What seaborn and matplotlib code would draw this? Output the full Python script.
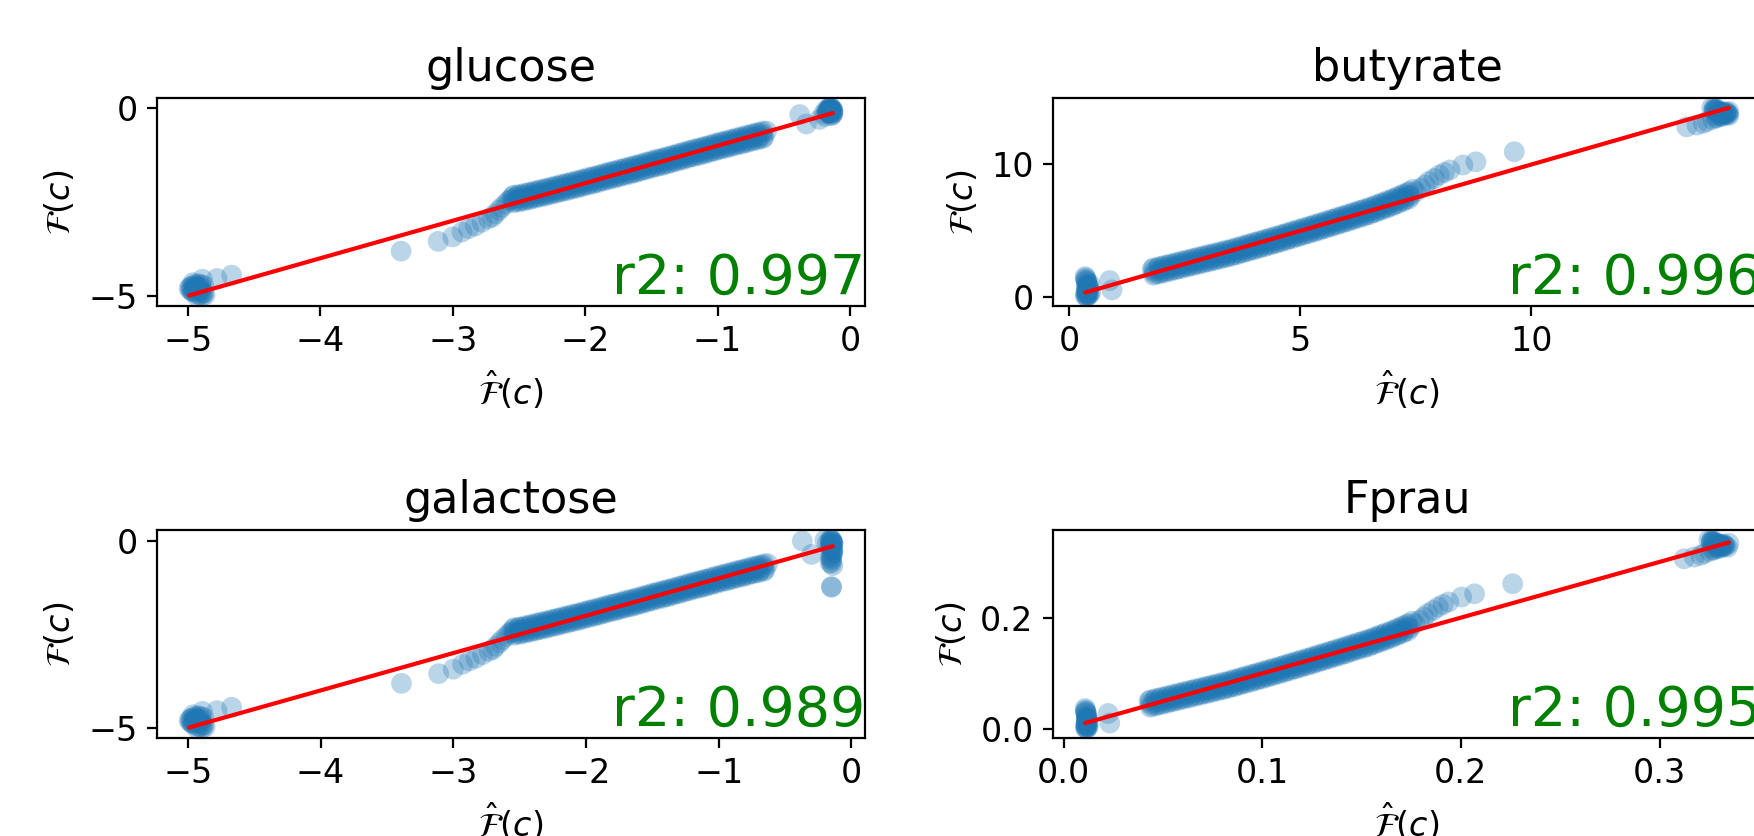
"""
Predicted vs. true F(c) for four targets, 2x2 panels with identity line and r2.
"""

import numpy as np
import matplotlib
matplotlib.use('Agg')
import matplotlib.pyplot as plt
from matplotlib.ticker import MultipleLocator
import seaborn as sns

# ── Data ────────────────────────────────────────────────────────────────────
TITLES = ['glucose', 'butyrate', 'galactose', 'Fprau']
R2     = [0.997, 0.996, 0.989, 0.995]

# glucose / galactose share the same low cluster, tail and band
low_x  = [-4.99, -4.98, -4.97, -4.96, -4.95, -4.94, -4.93, -4.92, -4.90, -4.89, -4.88, -4.87, -4.96, -4.91,
          -4.95, -4.92, -4.89, -4.97, -4.90, -4.93, -4.98, -4.95, -4.92, -4.90, -4.88, -4.94, -4.96, -4.91]
low_y  = [-4.80, -4.85, -4.75, -4.90, -4.70, -4.82, -4.95, -4.68, -4.78, -5.00, -4.72, -4.98, -4.65, -4.88,
          -4.78, -4.74, -4.92, -4.86, -4.70, -5.02, -4.76, -4.83, -4.79, -4.86, -4.93, -4.72, -4.88, -4.98]
tail_x = [-4.89, -4.78, -4.67, -3.39, -3.11, -3.00, -2.93, -2.88, -2.83, -2.78, -2.73, -2.70, -2.68,
          -2.65, -2.63, -2.60, -2.58, -2.56]
tail_y = [-4.56, -4.54, -4.45, -3.81, -3.55, -3.43, -3.30, -3.21, -3.14, -3.04, -2.95, -2.90, -2.82,
          -2.72, -2.64, -2.55, -2.47, -2.43]
band_up_x = [-2.55, -2.51, -2.47, -2.43, -2.39, -2.35, -2.31, -2.27, -2.23, -2.19, -2.15, -2.11, -2.07,
             -2.03, -1.99, -1.95, -1.91, -1.87, -1.83, -1.79, -1.75, -1.71, -1.67, -1.63, -1.59, -1.55,
             -1.51, -1.47, -1.43, -1.39, -1.35, -1.31, -1.27, -1.23, -1.19, -1.15, -1.11, -1.07, -1.03,
             -0.99, -0.95, -0.91, -0.87, -0.83, -0.79, -0.75, -0.71, -0.67, -0.63]
band_up_y = [-2.36, -2.33, -2.31, -2.27, -2.24, -2.21, -2.17, -2.14, -2.10, -2.07, -2.03, -2.00, -1.96,
             -1.93, -1.89, -1.85, -1.82, -1.78, -1.74, -1.70, -1.67, -1.63, -1.59, -1.55, -1.52, -1.48,
             -1.44, -1.40, -1.36, -1.32, -1.29, -1.25, -1.21, -1.17, -1.13, -1.09, -1.05, -1.02, -0.98,
             -0.94, -0.90, -0.87, -0.83, -0.79, -0.76, -0.72, -0.68, -0.65, -0.61]
band_mid_x = [-2.54, -2.50, -2.46, -2.42, -2.38, -2.34, -2.30, -2.26, -2.22, -2.18, -2.14, -2.10, -2.06,
              -2.02, -1.98, -1.94, -1.90, -1.86, -1.82, -1.78, -1.74, -1.70, -1.66, -1.62, -1.58, -1.54,
              -1.50, -1.46, -1.42, -1.38, -1.34, -1.30, -1.26, -1.22, -1.18, -1.14, -1.10, -1.06, -1.02,
              -0.98, -0.94, -0.90, -0.86, -0.82, -0.78, -0.74, -0.70, -0.66]
band_mid_y = [-2.42, -2.40, -2.37, -2.34, -2.30, -2.27, -2.24, -2.20, -2.17, -2.13, -2.10, -2.06, -2.03,
              -1.99, -1.95, -1.92, -1.88, -1.84, -1.80, -1.77, -1.73, -1.69, -1.66, -1.62, -1.58, -1.54,
              -1.50, -1.46, -1.43, -1.39, -1.35, -1.31, -1.27, -1.23, -1.19, -1.16, -1.12, -1.08, -1.04,
              -1.00, -0.97, -0.93, -0.89, -0.86, -0.82, -0.78, -0.75, -0.71]
band_top_y = [-2.32, -2.30, -2.27, -2.24, -2.20, -2.17, -2.14, -2.10, -2.07, -2.03, -2.00, -1.96, -1.93,
              -1.89, -1.85, -1.82, -1.78, -1.74, -1.70, -1.67, -1.63, -1.59, -1.56, -1.52, -1.48, -1.44,
              -1.40, -1.36, -1.33, -1.29, -1.25, -1.21, -1.17, -1.13, -1.09, -1.06, -1.02, -0.98, -0.94,
              -0.90, -0.87, -0.83, -0.79, -0.76, -0.72, -0.68, -0.65, -0.61]
band_bot_y = [-2.52, -2.50, -2.47, -2.44, -2.40, -2.37, -2.34, -2.30, -2.27, -2.23, -2.20, -2.16, -2.13,
              -2.09, -2.05, -2.02, -1.98, -1.94, -1.90, -1.87, -1.83, -1.79, -1.76, -1.72, -1.68, -1.64,
              -1.60, -1.56, -1.53, -1.49, -1.45, -1.41, -1.37, -1.33, -1.29, -1.26, -1.22, -1.18, -1.14,
              -1.10, -1.07, -1.03, -0.99, -0.96, -0.92, -0.88, -0.85, -0.81]
band_lo_x = [-2.53, -2.49, -2.45, -2.41, -2.37, -2.33, -2.29, -2.25, -2.21, -2.17, -2.13, -2.09, -2.05,
             -2.01, -1.97, -1.93, -1.89, -1.85, -1.81, -1.77, -1.73, -1.69, -1.65, -1.61, -1.57, -1.53,
             -1.49, -1.45, -1.41, -1.37, -1.33, -1.29, -1.25, -1.21, -1.17, -1.13, -1.09, -1.05, -1.01,
             -0.97, -0.93, -0.89, -0.85, -0.81, -0.77, -0.73, -0.69, -0.65]
band_lo_y = [-2.48, -2.46, -2.43, -2.40, -2.37, -2.33, -2.30, -2.26, -2.23, -2.19, -2.16, -2.12, -2.09,
             -2.05, -2.01, -1.98, -1.94, -1.90, -1.86, -1.83, -1.79, -1.75, -1.72, -1.68, -1.64, -1.60,
             -1.56, -1.52, -1.49, -1.45, -1.41, -1.37, -1.33, -1.29, -1.25, -1.22, -1.18, -1.14, -1.10,
             -1.06, -1.03, -0.99, -0.95, -0.92, -0.88, -0.84, -0.81, -0.77]
glu_top_x = [-0.38, -0.33, -0.23, -0.20, -0.19, -0.18, -0.17, -0.16, -0.15, -0.15, -0.14, -0.14, -0.13, -0.13,
             -0.14, -0.15, -0.16, -0.13, -0.17, -0.15, -0.13, -0.14, -0.15, -0.16, -0.14, -0.13, -0.15,
             -0.17, -0.14, -0.16]
glu_top_y = [-0.17, -0.42, -0.30, -0.15, -0.22, -0.05, -0.12, 0.00, -0.08, 0.02, -0.20, -0.03, -0.10, -0.06,
             -0.05, -0.12, -0.02, -0.15, -0.08, 0.01, -0.04, -0.09, -0.14, -0.06, 0.00, -0.12, -0.03,
             -0.10, -0.18, -0.13]
gal_top_x = [-0.37, -0.30, -0.20, -0.18, -0.16, -0.15, -0.14, -0.15, -0.16, -0.14, -0.15, -0.14, -0.15,
             -0.16, -0.15, -0.15, -0.14, -0.15, -0.15, -0.15, -0.14, -0.16, -0.15, -0.14, -0.15,
             -0.15, -0.14, -0.16, -0.15, -0.14, -0.15, -0.16, -0.14]
gal_top_y = [0.00, -0.36, 0.02, -0.05, 0.04, 0.00, -0.05, -0.10, -0.15, -0.20, -0.26, -0.32, -0.38,
             -0.45, -0.52, -0.60, -0.66, -1.22, -1.24, 0.02, -0.08, -0.02, -0.12, -0.25, -0.40,
             0.03, -0.04, -0.10, -0.18, -0.30, -0.48, -0.58, -0.06]

# butyrate
but_low_x = [0.35, 0.36, 0.38, 0.40, 0.37, 0.39, 0.42, 0.36, 0.38, 0.41, 0.44, 0.35, 0.47, 0.45,
             0.38, 0.40, 0.37, 0.42, 0.39, 0.41, 0.37, 0.39, 0.41, 0.38, 0.40, 0.42, 0.36, 0.39]
but_low_y = [0.10, 0.35, 0.60, 0.25, 0.85, 1.10, 0.45, 1.35, 0.05, 0.75, 0.20, 1.55, 0.40, 1.00,
             0.30, 0.70, 1.20, 0.15, 0.95, 0.50, 0.20, 0.55, 0.90, 1.25, 0.35, 0.80, 1.45, 0.10]
but_tail_x = [0.88, 0.93, 7.50, 7.61, 7.70, 7.78, 7.90, 8.01, 8.12, 8.24, 8.52, 8.80, 9.63]
but_tail_y = [1.25, 0.55, 7.95, 8.21, 8.45, 8.71, 8.95, 9.21, 9.40, 9.59, 9.96, 10.20, 10.96]
but_up_x = [1.80, 1.92, 2.04, 2.16, 2.28, 2.40, 2.52, 2.64, 2.76, 2.88, 3.00, 3.12, 3.24, 3.36, 3.48,
            3.60, 3.72, 3.84, 3.96, 4.08, 4.20, 4.32, 4.44, 4.56, 4.68, 4.80, 4.92, 5.04, 5.16, 5.28,
            5.40, 5.52, 5.64, 5.76, 5.88, 6.00, 6.12, 6.24, 6.36, 6.48, 6.60, 6.72, 6.84, 6.96, 7.08,
            7.20, 7.32, 7.44]
but_up_y = [2.10, 2.20, 2.31, 2.41, 2.51, 2.61, 2.72, 2.82, 2.92, 3.02, 3.13, 3.23, 3.33, 3.43, 3.53,
            3.65, 3.77, 3.89, 4.01, 4.13, 4.25, 4.37, 4.49, 4.61, 4.74, 4.87, 4.99, 5.12, 5.24, 5.37,
            5.50, 5.62, 5.75, 5.89, 6.02, 6.15, 6.28, 6.41, 6.55, 6.68, 6.83, 6.99, 7.14, 7.30, 7.47,
            7.65, 7.85, 8.13]
but_mid_x = [1.83, 1.95, 2.07, 2.19, 2.31, 2.43, 2.55, 2.67, 2.79, 2.91, 3.03, 3.15, 3.27, 3.39, 3.51,
             3.63, 3.75, 3.87, 3.99, 4.11, 4.23, 4.35, 4.47, 4.59, 4.71, 4.83, 4.95, 5.07, 5.19, 5.31,
             5.43, 5.55, 5.67, 5.79, 5.91, 6.03, 6.15, 6.27, 6.39, 6.51, 6.63, 6.75, 6.87, 6.99, 7.11,
             7.23, 7.35]
but_mid_y = [1.93, 2.03, 2.13, 2.23, 2.34, 2.44, 2.54, 2.64, 2.75, 2.85, 2.95, 3.05, 3.15, 3.26, 3.36,
             3.48, 3.60, 3.72, 3.84, 3.96, 4.08, 4.20, 4.32, 4.44, 4.57, 4.70, 4.82, 4.95, 5.07, 5.20,
             5.33, 5.46, 5.59, 5.72, 5.85, 5.98, 6.12, 6.25, 6.38, 6.51, 6.67, 6.83, 6.98, 7.14, 7.32,
             7.50, 7.68]
but_top_band_y = [2.21, 2.31, 2.41, 2.51, 2.62, 2.72, 2.82, 2.92, 3.03, 3.13, 3.23, 3.33, 3.43, 3.54, 3.64,
                  3.76, 3.88, 4.00, 4.12, 4.24, 4.36, 4.48, 4.60, 4.72, 4.85, 4.98, 5.10, 5.23, 5.35, 5.48,
                  5.61, 5.74, 5.87, 6.00, 6.13, 6.26, 6.40, 6.53, 6.66, 6.79, 6.95, 7.11, 7.26, 7.42, 7.60,
                  7.78, 7.96]
but_bot_band_y = [1.65, 1.75, 1.85, 1.95, 2.06, 2.16, 2.26, 2.36, 2.47, 2.57, 2.67, 2.77, 2.87, 2.98, 3.08,
                  3.20, 3.32, 3.44, 3.56, 3.68, 3.80, 3.92, 4.04, 4.16, 4.29, 4.42, 4.54, 4.67, 4.79, 4.92,
                  5.05, 5.18, 5.31, 5.44, 5.57, 5.70, 5.84, 5.97, 6.10, 6.23, 6.39, 6.55, 6.70, 6.86, 7.04,
                  7.22, 7.40]
but_lo_x = [1.86, 1.98, 2.10, 2.22, 2.34, 2.46, 2.58, 2.70, 2.82, 2.94, 3.06, 3.18, 3.30, 3.42, 3.54,
            3.66, 3.78, 3.90, 4.02, 4.14, 4.26, 4.38, 4.50, 4.62, 4.74, 4.86, 4.98, 5.10, 5.22, 5.34,
            5.46, 5.58, 5.70, 5.82, 5.94, 6.06, 6.18, 6.30, 6.42, 6.54, 6.66, 6.78, 6.90, 7.02, 7.14,
            7.26, 7.38]
but_lo_y = [1.75, 1.85, 1.96, 2.06, 2.16, 2.27, 2.37, 2.47, 2.57, 2.67, 2.78, 2.88, 2.98, 3.08, 3.19,
            3.31, 3.43, 3.55, 3.67, 3.79, 3.91, 4.03, 4.15, 4.28, 4.40, 4.53, 4.65, 4.78, 4.91, 5.03,
            5.16, 5.29, 5.42, 5.55, 5.68, 5.82, 5.95, 6.08, 6.21, 6.35, 6.51, 6.66, 6.82, 6.98, 7.15,
            7.34, 7.59]
but_top_x = [13.36, 13.58, 13.72, 13.80, 13.90, 13.95, 14.00, 14.05, 14.10, 14.15, 14.20, 14.25, 14.27,
             13.92, 14.00, 14.12, 14.22, 14.27, 13.95, 14.05, 14.15, 14.20, 14.10, 14.00,
             13.95, 14.00, 14.05, 14.10, 14.15, 14.20, 14.25, 14.02, 14.12, 13.98]
but_top_y = [12.84, 12.97, 13.10, 13.25, 14.30, 14.10, 14.20, 13.90, 13.80, 13.95, 13.75, 13.85, 13.70,
             13.40, 13.50, 13.60, 13.95, 14.00, 14.15, 14.05, 13.90, 13.80, 13.65, 13.55,
             14.22, 14.12, 14.00, 13.92, 13.85, 13.90, 13.78, 13.70, 13.72, 14.05]

# Fprau
fp_low_x = [0.0110, 0.0113, 0.0116, 0.0119, 0.0114, 0.0118, 0.0123, 0.0111, 0.0117, 0.0121, 0.0125, 0.0109,
            0.0113, 0.0117, 0.0112, 0.0120, 0.0115, 0.0118, 0.0112, 0.0114, 0.0117, 0.0113, 0.0116,
            0.0119, 0.0111, 0.0114]
fp_low_y = [0.002, 0.008, 0.014, 0.006, 0.020, 0.026, 0.011, 0.032, 0.001, 0.018, 0.005, 0.037,
            0.007, 0.017, 0.029, 0.004, 0.023, 0.012, 0.005, 0.013, 0.021, 0.030, 0.008,
            0.019, 0.034, 0.002]
fp_tail_x = [0.0225, 0.0233, 0.1768, 0.1793, 0.1814, 0.1833, 0.1860, 0.1886, 0.1911, 0.1939, 0.2004,
             0.2069, 0.2261]
fp_tail_y = [0.028, 0.011, 0.1892, 0.1954, 0.2011, 0.2073, 0.2130, 0.2192, 0.2237, 0.2282, 0.2370,
             0.2428, 0.2608]
fp_up_x = [0.0430, 0.0458, 0.0486, 0.0515, 0.0543, 0.0571, 0.0599, 0.0627, 0.0656, 0.0684, 0.0712,
           0.0740, 0.0768, 0.0797, 0.0825, 0.0853, 0.0881, 0.0909, 0.0938, 0.0966, 0.0994, 0.1022,
           0.1050, 0.1079, 0.1107, 0.1135, 0.1163, 0.1191, 0.1220, 0.1248, 0.1276, 0.1304, 0.1332,
           0.1361, 0.1389, 0.1417, 0.1445, 0.1473, 0.1502, 0.1530, 0.1558, 0.1586, 0.1614, 0.1643,
           0.1671, 0.1699, 0.1727, 0.1755]
fp_up_y = [0.0500, 0.0524, 0.0550, 0.0574, 0.0597, 0.0621, 0.0647, 0.0671, 0.0695, 0.0719, 0.0745,
           0.0769, 0.0793, 0.0816, 0.0840, 0.0869, 0.0897, 0.0926, 0.0954, 0.0983, 0.1012, 0.1040,
           0.1069, 0.1097, 0.1128, 0.1159, 0.1188, 0.1219, 0.1247, 0.1278, 0.1309, 0.1338, 0.1369,
           0.1402, 0.1433, 0.1464, 0.1495, 0.1526, 0.1559, 0.1590, 0.1626, 0.1664, 0.1699, 0.1737,
           0.1778, 0.1821, 0.1868, 0.1935]
fp_mid_x = [0.0437, 0.0465, 0.0493, 0.0522, 0.0550, 0.0578, 0.0606, 0.0634, 0.0663, 0.0691, 0.0719,
            0.0747, 0.0775, 0.0804, 0.0832, 0.0860, 0.0888, 0.0916, 0.0945, 0.0973, 0.1001, 0.1029,
            0.1057, 0.1086, 0.1114, 0.1142, 0.1170, 0.1198, 0.1227, 0.1255, 0.1283, 0.1311, 0.1339,
            0.1368, 0.1396, 0.1424, 0.1452, 0.1480, 0.1509, 0.1537, 0.1565, 0.1593, 0.1621, 0.1650,
            0.1678, 0.1706, 0.1734]
fp_mid_y = [0.0459, 0.0483, 0.0507, 0.0531, 0.0557, 0.0581, 0.0605, 0.0628, 0.0655, 0.0678, 0.0702,
            0.0726, 0.0750, 0.0776, 0.0800, 0.0828, 0.0857, 0.0885, 0.0914, 0.0942, 0.0971, 0.1000,
            0.1028, 0.1057, 0.1088, 0.1119, 0.1147, 0.1178, 0.1207, 0.1238, 0.1269, 0.1299, 0.1330,
            0.1361, 0.1392, 0.1423, 0.1457, 0.1488, 0.1518, 0.1549, 0.1587, 0.1626, 0.1661, 0.1699,
            0.1742, 0.1785, 0.1828]
fp_top_band_y = [0.0526, 0.0550, 0.0574, 0.0598, 0.0624, 0.0648, 0.0672, 0.0695, 0.0722, 0.0745, 0.0769,
                 0.0793, 0.0817, 0.0843, 0.0867, 0.0895, 0.0924, 0.0952, 0.0981, 0.1009, 0.1038, 0.1067,
                 0.1095, 0.1124, 0.1155, 0.1186, 0.1214, 0.1245, 0.1274, 0.1305, 0.1336, 0.1366, 0.1397,
                 0.1428, 0.1459, 0.1490, 0.1524, 0.1555, 0.1585, 0.1616, 0.1654, 0.1693, 0.1728, 0.1766,
                 0.1809, 0.1852, 0.1895]
fp_bot_band_y = [0.0392, 0.0416, 0.0440, 0.0464, 0.0490, 0.0514, 0.0538, 0.0561, 0.0588, 0.0611, 0.0635,
                 0.0659, 0.0683, 0.0709, 0.0733, 0.0761, 0.0790, 0.0818, 0.0847, 0.0875, 0.0904, 0.0933,
                 0.0961, 0.0990, 0.1021, 0.1052, 0.1080, 0.1111, 0.1140, 0.1171, 0.1202, 0.1232, 0.1263,
                 0.1294, 0.1325, 0.1356, 0.1390, 0.1421, 0.1451, 0.1482, 0.1520, 0.1559, 0.1594, 0.1632,
                 0.1675, 0.1718, 0.1761]
fp_lo_x = [0.0444, 0.0472, 0.0500, 0.0529, 0.0557, 0.0585, 0.0613, 0.0641, 0.0670, 0.0698, 0.0726,
           0.0754, 0.0782, 0.0811, 0.0839, 0.0867, 0.0895, 0.0923, 0.0952, 0.0980, 0.1008, 0.1036,
           0.1064, 0.1093, 0.1121, 0.1149, 0.1177, 0.1205, 0.1234, 0.1262, 0.1290, 0.1318, 0.1346,
           0.1375, 0.1403, 0.1431, 0.1459, 0.1487, 0.1516, 0.1544, 0.1572, 0.1600, 0.1628, 0.1657,
           0.1685, 0.1713, 0.1741]
fp_lo_y = [0.0417, 0.0440, 0.0466, 0.0490, 0.0514, 0.0540, 0.0564, 0.0588, 0.0612, 0.0635, 0.0662,
           0.0685, 0.0709, 0.0733, 0.0759, 0.0788, 0.0816, 0.0845, 0.0873, 0.0902, 0.0931, 0.0959,
           0.0988, 0.1019, 0.1047, 0.1078, 0.1107, 0.1138, 0.1169, 0.1197, 0.1228, 0.1259, 0.1290,
           0.1321, 0.1352, 0.1385, 0.1416, 0.1447, 0.1478, 0.1511, 0.1549, 0.1585, 0.1623, 0.1661,
           0.1702, 0.1747, 0.1806]
fp_top_x = [0.3124, 0.3175, 0.3208, 0.3226, 0.3249, 0.3261, 0.3272, 0.3284, 0.3296, 0.3307, 0.3319,
            0.3330, 0.3342, 0.3254, 0.3272, 0.3300, 0.3323, 0.3349, 0.3261, 0.3284, 0.3307, 0.3319,
            0.3296, 0.3272, 0.3261, 0.3272, 0.3284, 0.3296, 0.3307, 0.3319, 0.3330, 0.3277,
            0.3300, 0.3268]
fp_top_y = [0.3056, 0.3087, 0.3118, 0.3154, 0.3403, 0.3356, 0.3380, 0.3308, 0.3284, 0.3320, 0.3273,
            0.3296, 0.3261, 0.3189, 0.3213, 0.3237, 0.3320, 0.3332, 0.3368, 0.3344, 0.3308, 0.3284,
            0.3249, 0.3225, 0.3384, 0.3361, 0.3332, 0.3313, 0.3296, 0.3308, 0.3280, 0.3261,
            0.3265, 0.3344]
# ────────────────────────────────────────────────────────────────────────────


def join(*parts):
    out = []
    for p in parts:
        out.extend(p)
    return np.array(out)


pred = [
    join(low_x, tail_x, band_up_x, band_mid_x, band_mid_x, band_mid_x, band_lo_x, glu_top_x),
    join(but_low_x, but_tail_x, but_up_x, but_mid_x, but_mid_x, but_mid_x, but_lo_x, but_top_x),
    join(low_x, tail_x, band_up_x, band_mid_x, band_mid_x, band_mid_x, band_lo_x, gal_top_x),
    join(fp_low_x, fp_tail_x, fp_up_x, fp_mid_x, fp_mid_x, fp_mid_x, fp_lo_x, fp_top_x),
]
true = [
    join(low_y, tail_y, band_up_y, band_top_y, band_mid_y, band_bot_y, band_lo_y, glu_top_y),
    join(but_low_y, but_tail_y, but_up_y, but_top_band_y, but_mid_y, but_bot_band_y, but_lo_y, but_top_y),
    join(low_y, tail_y, band_up_y, band_top_y, band_mid_y, band_bot_y, band_lo_y, gal_top_y),
    join(fp_low_y, fp_tail_y, fp_up_y, fp_top_band_y, fp_mid_y, fp_bot_band_y, fp_lo_y, fp_top_y),
]
x_steps = [1, 5, 1, 0.1]
y_steps = [5, 10, 5, 0.2]

sns.set_style('ticks', {'axes.edgecolor': 'black', 'text.color': 'black',
                        'axes.labelcolor': 'black', 'xtick.color': 'black',
                        'ytick.color': 'black'})
plt.rcParams['font.family'] = ['DejaVu Sans']
plt.rcParams['xtick.labelsize'] = 12
plt.rcParams['ytick.labelsize'] = 12
plt.rcParams['axes.linewidth'] = 0.8

fig, axes = plt.subplots(2, 2, figsize=(8.77, 4.18), dpi=200)
fig.subplots_adjust(left=0.0895, right=1.004, bottom=0.1172, top=0.8828,
                    wspace=0.2655, hspace=1.077)

for ax, title, xs, ys, r2, xs_step, ys_step in zip(axes.flat, TITLES, pred, true, R2, x_steps, y_steps):
    assert len(xs) == len(ys), title
    sns.scatterplot(x=xs, y=ys, ax=ax, color='#1f77b4', alpha=0.3, s=56,
                    edgecolor='none', linewidth=0)
    lo, hi = xs.min(), xs.max()
    ax.plot([lo, hi], [lo, hi], color='red', lw=1.5)
    ax.xaxis.set_major_locator(MultipleLocator(xs_step))
    ax.yaxis.set_major_locator(MultipleLocator(ys_step))
    ax.set_title(title, fontsize=16)
    ax.set_xlabel(r'$\hat{\mathcal{F}}(c)$', fontsize=12)
    ax.set_ylabel(r'$\mathcal{F}(c)$', fontsize=12)
    ax.text(1.0, 0.0, f'r2: {r2:.3f}', transform=ax.transAxes, ha='right', va='bottom',
            color='green', fontsize=20)

fig.savefig('out.png', dpi=200)
plt.close(fig)
